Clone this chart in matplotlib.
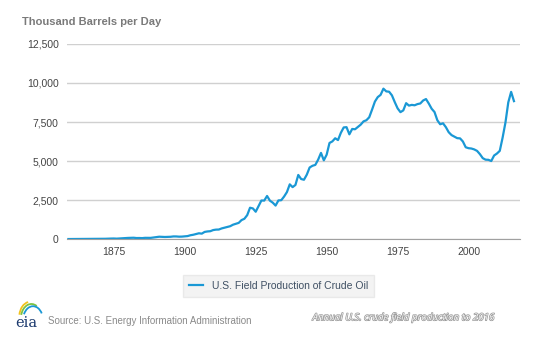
import matplotlib
matplotlib.use("Agg")
import matplotlib.pyplot as plt
import matplotlib.patheffects as pe
from matplotlib.patches import Arc

plt.rcParams['font.family'] = ['Liberation Sans', 'DejaVu Sans']

# Annual U.S. field production of crude oil, thousand barrels per day
years = list(range(1859, 2017))
production = [
    0, 1, 6, 8, 7, 6, 7, 10, 9, 10, 11,                      # 1859-1869
    14, 14, 17, 27, 30, 34, 25, 37, 42, 55,                  # 1870-1879
    72, 76, 83, 64, 66, 60, 77, 78, 75, 96,                  # 1880-1889
    124, 149, 138, 132, 135, 145, 167, 166, 152, 156,        # 1890-1899
    174, 190, 243, 275, 321, 369, 346, 456, 487, 502,        # 1900-1909
    574, 603, 609, 680, 728, 770, 822, 919, 975, 1035,       # 1910-1919
    1214, 1298, 1531, 2007, 1962, 1750, 2111, 2469, 2464, 2760,  # 1920-1929
    2460, 2332, 2145, 2475, 2488, 2723, 3010, 3505, 3327, 3466,  # 1930-1939
    4107, 3847, 3799, 4125, 4584, 4695, 4751, 5088, 5520, 5046,  # 1940-1949
    5407, 6158, 6256, 6458, 6342, 6807, 7151, 7170, 6710, 7054,  # 1950-1959
    7035, 7183, 7332, 7542, 7614, 7804, 8295, 8810, 9096, 9238,  # 1960-1969
    9637, 9463, 9441, 9208, 8774, 8375, 8132, 8245, 8707, 8552,  # 1970-1979
    8597, 8572, 8649, 8688, 8879, 8971, 8680, 8349, 8140, 7613,  # 1980-1989
    7355, 7417, 7171, 6847, 6662, 6560, 6465, 6452, 6252, 5881,  # 1990-1999
    5822, 5801, 5744, 5649, 5441, 5184, 5086, 5077, 5000, 5353,  # 2000-2009
    5479, 5652, 6501, 7467, 8759, 9431, 8838,                # 2010-2016
]

x_ticks = [1875, 1900, 1925, 1950, 1975, 2000]
y_ticks = [0, 2500, 5000, 7500, 10000, 12500]

fig = plt.figure(figsize=(5.5, 3.41), dpi=100)
ax = fig.add_axes([0.1218, 0.299, 0.823, 0.572])

ax.plot(years, production, color='#1a98d5', lw=1.6,
        label='U.S. Field Production of Crude Oil')

ax.set_xlim(1858.5, 2018)
ax.set_ylim(0, 12500)
ax.set_xticks(x_ticks)
ax.set_yticks(y_ticks)
ax.set_yticklabels([f'{v:,}' for v in y_ticks])
ax.tick_params(length=0, labelsize=7.5, colors='#444444', pad=6)
ax.grid(axis='y', color='#d0d0d0', lw=1)
ax.set_axisbelow(True)
for side in ['top', 'right', 'left']:
    ax.spines[side].set_visible(False)
ax.spines['bottom'].set_color('#a0a0a0')

fig.text(0.04, 0.935, 'Thousand Barrels per Day', fontsize=8,
         fontweight='bold', color='#7a7a7a', va='center')

leg = ax.legend(loc='center', bbox_to_anchor=(0.467, -0.24), frameon=True,
                fontsize=7.5, handlelength=1.4, borderpad=0.55, fancybox=False)
leg.get_frame().set_facecolor('#f0f0f0')
leg.get_frame().set_edgecolor('#e6e6e6')
for t in leg.get_texts():
    t.set_color('#3e4f63')

# eia logo
fig.text(0.048, 0.052, 'eia', fontsize=10.5, family='DejaVu Serif',
         color='#1c3a6e', ha='center', va='center')
fig.add_artist(Arc((0.055, 0.07), 0.04, 0.09, theta1=95, theta2=160,
                   transform=fig.transFigure, color='#f2c21b', lw=1.3))
fig.add_artist(Arc((0.057, 0.066), 0.038, 0.085, theta1=75, theta2=150,
                   transform=fig.transFigure, color='#7cc242', lw=1.3))
fig.add_artist(Arc((0.06, 0.062), 0.036, 0.08, theta1=50, theta2=135,
                   transform=fig.transFigure, color='#1a98d5', lw=1.3))

fig.text(0.088, 0.058, 'Source: U.S. Energy Information Administration',
         fontsize=7, color='#8a8a8a', va='center')
fig.text(0.9, 0.068, 'Annual U.S. crude field production to 2016',
         fontsize=7, style='italic', family='Open Sans', color='#f2f2f2',
         ha='right', va='center',
         path_effects=[pe.withStroke(linewidth=1.0, foreground='#9a9a9a')])

fig.savefig('out.png', dpi=100)
